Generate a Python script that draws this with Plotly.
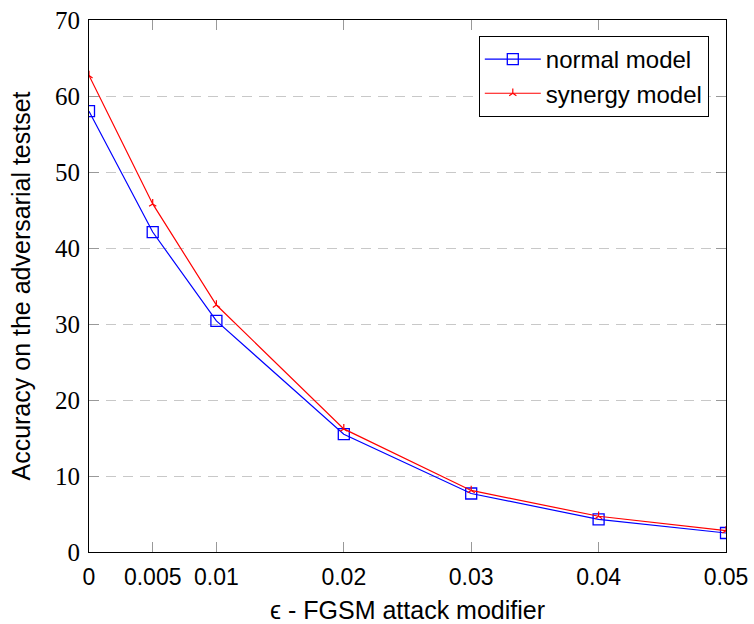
import plotly.graph_objects as go

eps = [0, 0.005, 0.01, 0.02, 0.03, 0.04, 0.05]
normal = [58.0, 42.1, 30.4, 15.5, 7.7, 4.3, 2.5]
synergy = [62.7, 45.8, 32.5, 16.2, 8.1, 4.7, 2.8]
xticks = [0, 0.005, 0.01, 0.02, 0.03, 0.04, 0.05]
xticklabels = ["0", "0.005", "0.01", "0.02", "0.03", "0.04", "0.05"]
yticks = [0, 10, 20, 30, 40, 50, 60, 70]

fig = go.Figure()
fig.add_trace(go.Scatter(
    x=eps, y=normal, name="normal model", mode="lines+markers",
    line=dict(color="#0000ff", width=1.2),
    marker=dict(symbol="square-open", size=11, color="#0000ff", line=dict(width=1.3, color="#0000ff")),
))
fig.add_trace(go.Scatter(
    x=eps, y=synergy, name="synergy model", mode="lines+markers",
    line=dict(color="#ff0000", width=1.2),
    marker=dict(symbol="y-up", size=6, color="#ff0000", line=dict(width=1.2, color="#ff0000")),
))

serif = "Liberation Serif"
sans = "Liberation Sans"
fig.update_layout(
    template="none",
    width=754, height=624,
    margin=dict(l=89, r=28, t=20, b=72, autoexpand=False),
    plot_bgcolor="white", paper_bgcolor="white",
    showlegend=True,
    legend=dict(
        x=0.973, y=0.970, xanchor="right", yanchor="top",
        bordercolor="black", borderwidth=1, bgcolor="white",
        font=dict(family=sans, size=24, color="black"),
        tracegroupgap=0, itemwidth=56,
    ),
    xaxis=dict(
        range=[0, 0.05], tickvals=xticks, ticktext=xticklabels,
        showline=True, linecolor="black", linewidth=1, mirror="ticks",
        ticks="inside", ticklen=10, tickcolor="#999999", automargin=False,
        showgrid=False, zeroline=False, ticklabelstandoff=4, ticklabeloverflow="allow",
        tickfont=dict(family=sans, size=23, color="black"),
        title=dict(text="ϵ - FGSM attack modifier", font=dict(family=sans, size=25, color="black"), standoff=19),
    ),
    yaxis=dict(
        range=[0, 70], tickvals=yticks,
        showline=True, linecolor="black", linewidth=1, mirror="ticks",
        ticks="inside", ticklen=10, tickcolor="#999999", automargin=False,
        showgrid=True, gridcolor="#c8c8c8", griddash="10px,7px", gridwidth=1.2,
        zeroline=False, ticklabelstandoff=3, ticklabeloverflow="allow",
        tickfont=dict(family=serif, size=25, color="black"),
        title=dict(text="Accuracy on the adversarial testset", font=dict(family=sans, size=25, color="black"), standoff=17),
    ),
)

fig.write_html(
    "out.html",
    config={"displayModeBar": False},
    post_script="document.body.style.margin='0';document.body.style.overflow='hidden';",
)
